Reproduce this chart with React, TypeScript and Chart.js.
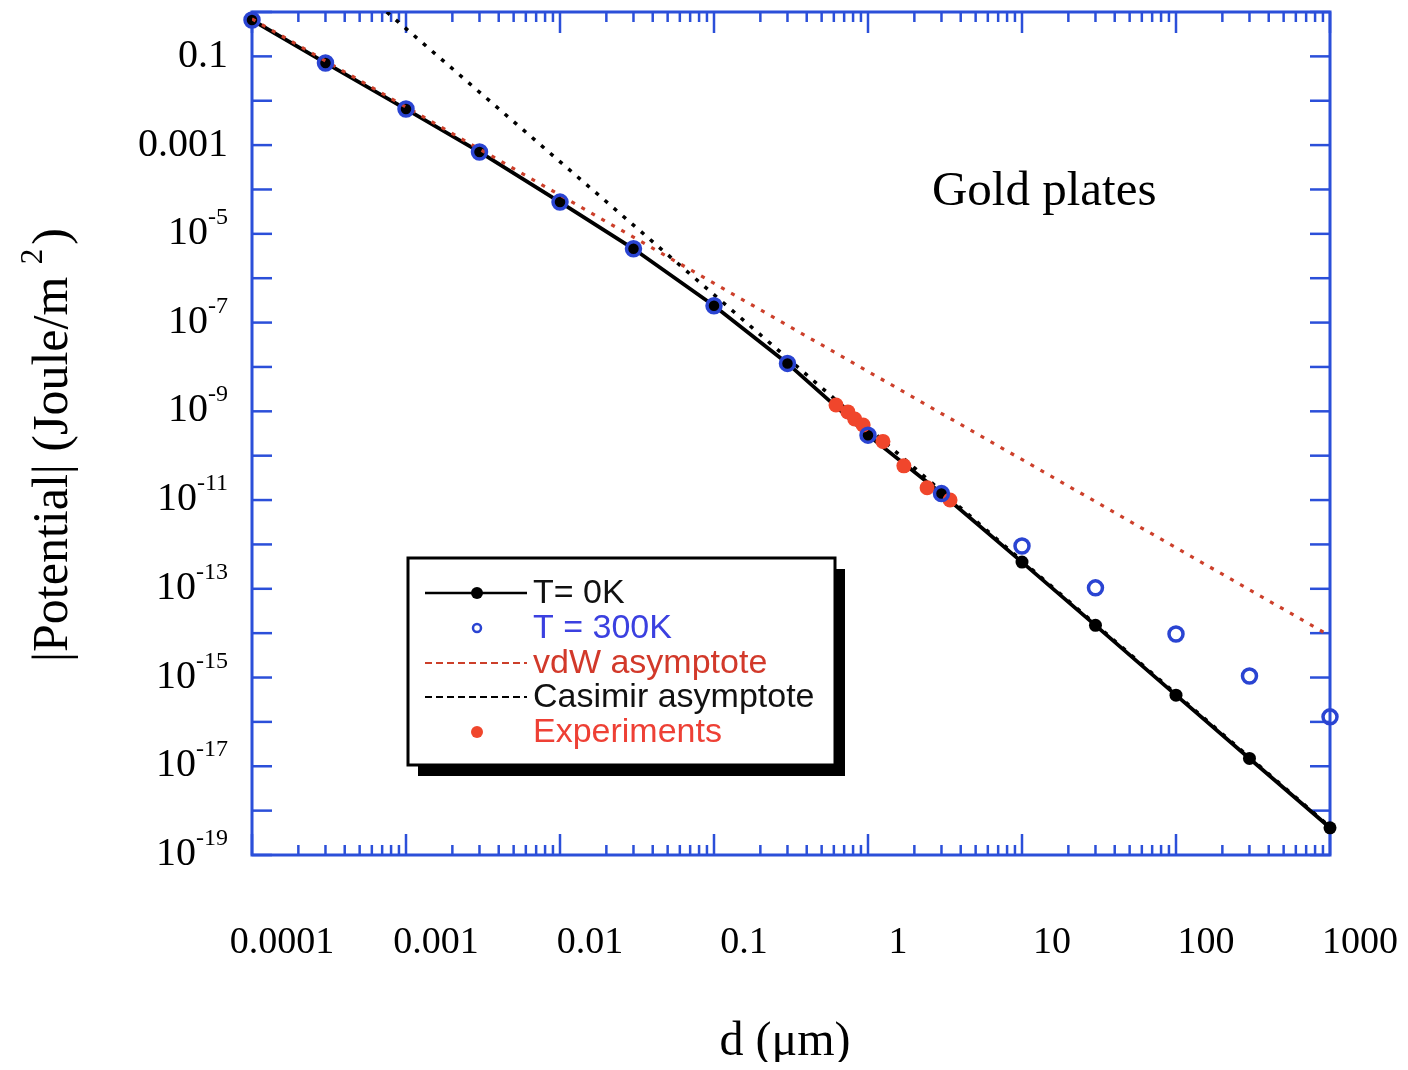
import React, { useEffect, useRef } from 'react';
import { Chart, registerables } from 'chart.js';

Chart.register(...registerables);

// ---------- data ----------
const D_THEORY = [1e-4, 3e-4, 1e-3, 3e-3, 1e-2, 3e-2, 0.1, 0.3, 1, 3, 10, 30, 100, 300, 1000];
const T0K = [0.66, 0.071, 6.5e-3, 7.0e-4, 5.2e-5, 4.6e-6, 2.4e-7, 1.2e-8, 2.9e-10, 1.4e-11, 4.0e-13, 1.5e-14, 4.0e-16, 1.5e-17, 4.1e-19];
const T300K = [0.66, 0.071, 6.5e-3, 7.0e-4, 5.2e-5, 4.6e-6, 2.4e-7, 1.2e-8, 2.9e-10, 1.4e-11, 9.2e-13, 1.05e-13, 9.6e-15, 1.08e-15, 1.3e-16];
const VDW_D = [1e-4, 1000];
const VDW = [0.7, 8.7e-15];
const CASIMIR_D = [7.5e-4, 1000];
const CASIMIR = [1.0, 4.3e-19];
const EXP_D = [0.62, 0.74, 0.82, 0.93, 1.25, 1.71, 2.42, 3.41];
const EXP = [1.39e-9, 9.7e-10, 6.7e-10, 4.9e-10, 2.1e-10, 5.9e-11, 1.9e-11, 1.0e-11];

const X_TICKS = [1e-4, 1e-3, 1e-2, 0.1, 1, 10, 100, 1000];
const X_TICK_LABELS = ['0.0001', '0.001', '0.01', '0.1', '1', '10', '100', '1000'];
const Y_TICKS = [1e-1, 1e-3, 1e-5, 1e-7, 1e-9, 1e-11, 1e-13, 1e-15, 1e-17, 1e-19];
const Y_TICK_LABELS = ['0.1', '0.001', '10^-5', '10^-7', '10^-9', '10^-11', '10^-13', '10^-15', '10^-17', '10^-19'];

const X_MIN = 1e-4;
const X_MAX = 1000;
const Y_MIN = 1e-19;
const Y_MAX = 1;

const ANNOTATION = { text: 'Gold plates', x: 2.6, y: 4.5e-5 };

// ---------- styles ----------
const AXIS_BLUE = '#2b4fd9';
const RING_BLUE = '#2a44d2';
const VDW_RED = '#cc3f2a';
const EXP_RED = '#f0462c';
const SERIF = '"Liberation Serif", "Times New Roman", serif';
const SANS = '"Liberation Sans", Arial, sans-serif';

const pts = (xs: number[], ys: number[]) => xs.map((x, i) => ({ x, y: ys[i] }));

const decorPlugin = {
  id: 'decor',
  beforeDatasetsDraw(chart: any) {
    const { ctx, chartArea: a, scales } = chart;
    const x = scales.x;
    const y = scales.y;
    ctx.save();
    ctx.strokeStyle = AXIS_BLUE;
    ctx.lineWidth = 2.5;
    const seg = (x1: number, y1: number, x2: number, y2: number) => {
      ctx.beginPath();
      ctx.moveTo(x1, y1);
      ctx.lineTo(x2, y2);
      ctx.stroke();
    };
    for (let e = -19; e <= 0; e++) {
      const py = y.getPixelForValue(Math.pow(10, e));
      seg(a.left, py, a.left + 20, py);
      seg(a.right - 20, py, a.right, py);
    }
    for (let e = -4; e <= 3; e++) {
      for (let m = 1; m <= 9; m++) {
        const v = m * Math.pow(10, e);
        if (v > X_MAX * 1.0001) break;
        const px = x.getPixelForValue(v);
        const len = m === 1 ? 21 : 10;
        seg(px, a.top, px, a.top + len);
        seg(px, a.bottom - len, px, a.bottom);
      }
    }
    ctx.lineWidth = 3;
    ctx.strokeRect(a.left, a.top, a.right - a.left, a.bottom - a.top);
    ctx.restore();
  },
  afterDraw(chart: any) {
    const { ctx, chartArea: a, scales } = chart;
    const x = scales.x;
    const y = scales.y;
    ctx.save();
    ctx.fillStyle = '#000';

    // x tick labels
    ctx.font = `38px ${SERIF}`;
    ctx.textAlign = 'center';
    ctx.textBaseline = 'alphabetic';
    X_TICKS.forEach((v, i) => {
      ctx.fillText(X_TICK_LABELS[i], x.getPixelForValue(v) + 30, 945);
    });

    // y tick labels
    const right = 220;
    Y_TICKS.forEach((v, i) => {
      const py = y.getPixelForValue(v);
      const lab = Y_TICK_LABELS[i];
      ctx.textAlign = 'right';
      if (lab.includes('^')) {
        const [base, exp] = lab.split('^');
        ctx.font = `24px ${SERIF}`;
        const we = ctx.measureText(exp).width;
        ctx.fillText(exp, right, py - 10);
        ctx.font = `40px ${SERIF}`;
        ctx.fillText(base, right - we, py + 10);
      } else {
        ctx.font = `40px ${SERIF}`;
        ctx.fillText(lab, right, py + 11);
      }
    });

    // x title
    ctx.font = `48px ${SERIF}`;
    ctx.textAlign = 'center';
    ctx.fillText('d (\u03bcm)', (a.left + a.right) / 2 - 6, 1047);

    // y title (rotated, with superscript)
    ctx.save();
    ctx.translate(59, 437);
    ctx.rotate(-Math.PI / 2);
    ctx.textAlign = 'left';
    const main = '|Potential| (Joule/m ';
    const sup = '2';
    const end = ')';
    ctx.font = `50px ${SERIF}`;
    const wMain = ctx.measureText(main).width;
    const wEnd = ctx.measureText(end).width;
    ctx.font = `31px ${SERIF}`;
    const wSup = ctx.measureText(sup).width + 4;
    const x0 = -(wMain + wSup + wEnd) / 2;
    ctx.font = `50px ${SERIF}`;
    ctx.fillText(main, x0, 0);
    ctx.fillText(end, x0 + wMain + wSup, 0);
    ctx.font = `31px ${SERIF}`;
    ctx.fillText(sup, x0 + wMain, -25);
    ctx.restore();

    // annotation
    ctx.font = `49px ${SERIF}`;
    ctx.textAlign = 'left';
    ctx.fillText(ANNOTATION.text, x.getPixelForValue(ANNOTATION.x), y.getPixelForValue(ANNOTATION.y));

    // legend
    const bx = 400, by = 550, bw = 427, bh = 207;
    ctx.fillStyle = '#000';
    ctx.fillRect(bx + 10, by + 11, bw, bh);
    ctx.fillStyle = '#fff';
    ctx.fillRect(bx, by, bw, bh);
    ctx.strokeStyle = '#000';
    ctx.lineWidth = 3;
    ctx.strokeRect(bx, by, bw, bh);

    const ds = chart.data.datasets;
    const order = [0, 1, 2, 3, 4];
    const rowY = [585, 620, 655, 689, 724];
    const lx1 = 417, lx2 = 519, mx = 469, tx = 525;
    ctx.textBaseline = 'middle';
    ctx.font = `34px ${SANS}`;
    order.forEach((di, r) => {
      const d = ds[di];
      const cy = rowY[r];
      if (d.showLine) {
        ctx.save();
        ctx.strokeStyle = d.borderColor;
        ctx.lineWidth = d.legendLineWidth;
        ctx.setLineDash(d.legendDash || []);
        ctx.beginPath();
        ctx.moveTo(lx1, cy);
        ctx.lineTo(lx2, cy);
        ctx.stroke();
        ctx.restore();
      }
      if (d.pointRadius > 0) {
        ctx.beginPath();
        const rr = d.legendRadius;
        ctx.arc(mx, cy, rr, 0, Math.PI * 2);
        if (d.legendHollow) {
          ctx.strokeStyle = d.pointBorderColor;
          ctx.lineWidth = 2.5;
          ctx.setLineDash([]);
          ctx.stroke();
        } else {
          ctx.fillStyle = d.pointBackgroundColor;
          ctx.fill();
        }
      }
      ctx.fillStyle = d.legendTextColor;
      ctx.textAlign = 'left';
      ctx.fillText(d.label, tx, cy + 1);
    });
    ctx.restore();
  },
};

export default function App() {
  const ref = useRef<HTMLCanvasElement | null>(null);
  useEffect(() => {
    if (!ref.current) return;
    const chart = new Chart(ref.current, {
      type: 'scatter',
      data: {
        datasets: [
          {
            label: 'T= 0K',
            data: pts(D_THEORY, T0K),
            showLine: true,
            borderColor: '#000',
            borderWidth: 3.8,
            pointRadius: 6.5,
            pointBackgroundColor: '#000',
            pointBorderColor: '#000',
            pointBorderWidth: 0,
            order: 4,
            clip: false,
            legendLineWidth: 2.5,
            legendRadius: 6,
            legendTextColor: '#111',
          } as any,
          {
            label: 'T = 300K',
            data: pts(D_THEORY, T300K),
            showLine: false,
            pointRadius: 7,
            pointBackgroundColor: 'rgba(0,0,0,0)',
            pointBorderColor: RING_BLUE,
            pointBorderWidth: 3.5,
            order: 0,
            clip: false,
            legendRadius: 4,
            legendHollow: true,
            legendTextColor: '#3b40e0',
          } as any,
          {
            label: 'vdW asymptote',
            data: pts(VDW_D, VDW),
            showLine: true,
            borderColor: VDW_RED,
            borderWidth: 3.2,
            borderDash: [4, 7.5],
            pointRadius: 0,
            order: 2,
            legendLineWidth: 2,
            legendDash: [7, 4],
            legendTextColor: '#d2392a',
          } as any,
          {
            label: 'Casimir asymptote',
            data: pts(CASIMIR_D, CASIMIR),
            showLine: true,
            borderColor: '#000',
            borderWidth: 3.5,
            borderDash: [4, 8],
            pointRadius: 0,
            order: 3,
            legendLineWidth: 2,
            legendDash: [7, 4],
            legendTextColor: '#111',
          } as any,
          {
            label: 'Experiments',
            data: pts(EXP_D, EXP),
            showLine: false,
            pointRadius: 7.5,
            pointBackgroundColor: EXP_RED,
            pointBorderColor: EXP_RED,
            pointBorderWidth: 0,
            order: 1,
            legendRadius: 6,
            legendTextColor: '#ee4035',
          } as any,
        ],
      },
      options: {
        responsive: false,
        animation: false,
        layout: { autoPadding: false, padding: { top: 4, right: 70, left: 0, bottom: 0 } },
        plugins: { legend: { display: false }, tooltip: { enabled: false } },
        scales: {
          x: {
            type: 'logarithmic',
            min: X_MIN,
            max: X_MAX,
            grid: { display: false },
            border: { display: false },
            ticks: { display: false },
            afterFit: (s: any) => {
              s.height = 207;
            },
          },
          y: {
            type: 'logarithmic',
            min: Y_MIN,
            max: Y_MAX,
            grid: { display: false },
            border: { display: false },
            ticks: { display: false },
            afterFit: (s: any) => {
              s.width = 244;
            },
          },
        },
      } as any,
      plugins: [decorPlugin],
    });
    return () => chart.destroy();
  }, []);
  return (
    <div style={{ width: 1392, height: 1054 }}>
      <canvas ref={ref} width={1392} height={1054} />
    </div>
  );
}
